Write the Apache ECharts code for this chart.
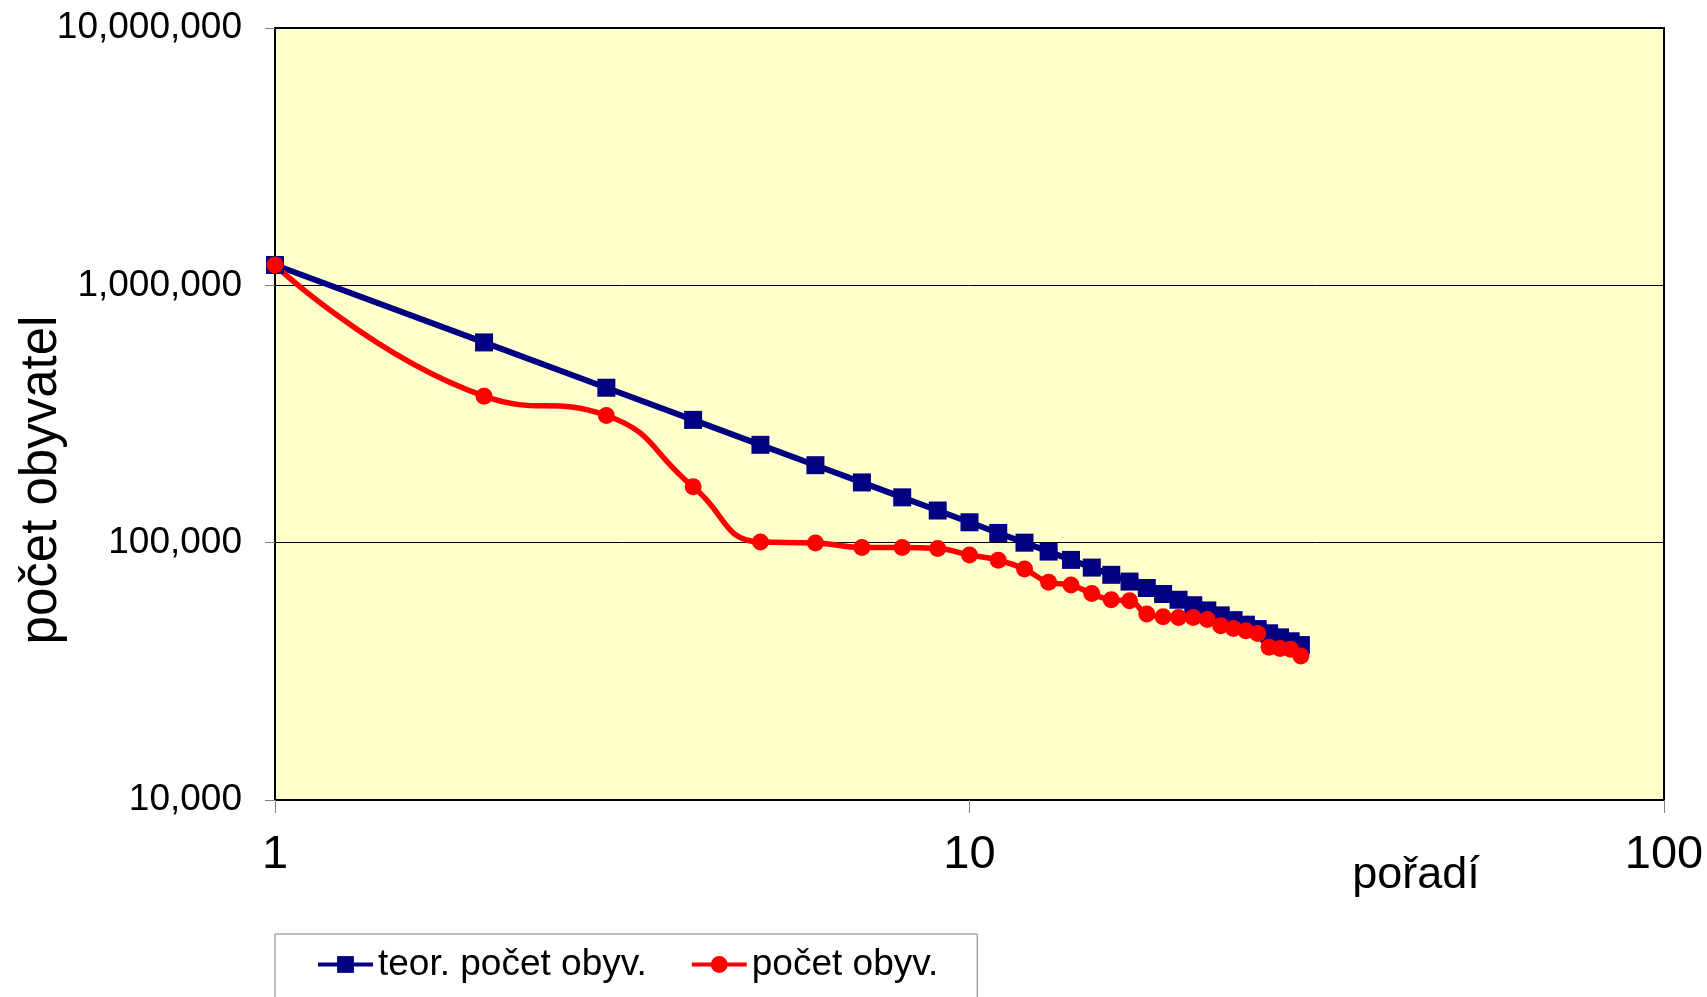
<!DOCTYPE html>
<html>
<head>
<meta charset="utf-8">
<script src="https://cdn.jsdelivr.net/npm/echarts@6/dist/echarts.min.js"></script>
<style>
html,body{margin:0;padding:0;background:#fff;}
#chart{width:1707px;height:997px;}
</style>
</head>
<body>
<div id="chart"></div>
<script>
// ---- data ----
var ranks = [1,2,3,4,5,6,7,8,9,10,11,12,13,14,15,16,17,18,19,20,21,22,23,24,25,26,27,28,29,30];
var theoretical = [1200000,600000,400000,300000,240000,200000,171429,150000,133333,120000,
  109091,100000,92308,85714,80000,75000,70588,66667,63158,60000,
  57143,54545,52174,50000,48000,46154,44444,42857,41379,40000];
var actual = [1200000,371000,312000,165000,100500,99800,95800,95800,95000,89500,
  85500,79000,70200,68400,63500,60000,59500,52800,51500,51200,
  51200,50300,47500,46400,45500,44400,39200,38800,38500,36300];
var seriesNames = ['teor. počet obyv.', 'počet obyv.'];
var xTicks = [1, 10, 100];
var yTicks = [10000, 100000, 1000000, 10000000];
var xName = 'pořadí';
var yName = 'počet obyvatel';

function pairs(xs, ys){ return xs.map(function(x,i){ return [x, ys[i]]; }); }

var FONT = "'Liberation Sans', Arial, sans-serif";
var chart = echarts.init(document.getElementById('chart'), null, {renderer:'canvas'});
chart.setOption({
  backgroundColor: '#ffffff',
  animation: false,
  grid: {
    left: 275, right: 43, top: 28, bottom: 197,
    show: true, backgroundColor: '#FFFFCC', borderColor: '#000', borderWidth: 2,
    containLabel: false
  },
  xAxis: {
    type: 'log', logBase: 10, min: xTicks[0], max: xTicks[xTicks.length-1], interval: 1,
    axisLine: {show: true, onZero: false, lineStyle: {color: '#000', width: 2}},
    axisTick: {show: true, length: 13, lineStyle: {color: '#808080', width: 1}},
    splitLine: {show: false},
    minorTick: {show: false},
    axisLabel: {
      margin: 32, color: '#000', fontSize: 47, fontFamily: FONT,
      formatter: function(v){ return String(Math.round(v)); }
    }
  },
  yAxis: {
    type: 'log', logBase: 10, min: yTicks[0], max: yTicks[yTicks.length-1], interval: 1,
    axisLine: {show: true, onZero: false, lineStyle: {color: '#000', width: 2}},
    axisTick: {show: true, length: 10, lineStyle: {color: '#808080', width: 1}},
    splitLine: {show: true, lineStyle: {color: '#000', width: 1}},
    axisLabel: {
      margin: 33, color: '#000', fontSize: 37, fontFamily: FONT,
      formatter: function(v){ return Math.round(v).toLocaleString('en-US'); }
    }
  },
  legend: {
    left: 275, top: 934,
    padding: [12, 39, 24, 41],
    itemGap: 43, itemWidth: 55, itemHeight: 21,
    borderColor: '#808080', borderWidth: 1, backgroundColor: '#fff',
    lineStyle: {width: 4},
    textStyle: {fontSize: 37, fontFamily: FONT, color: '#000'},
    data: seriesNames
  },
  graphic: [
    {type: 'text', x: 42, y: 480, rotation: Math.PI/2,
     style: {text: yName, fontSize: 51, fontFamily: FONT, fill: '#000', align: 'center', verticalAlign: 'middle'}},
    {type: 'text', x: 1416, y: 876,
     style: {text: xName, fontSize: 45, fontFamily: FONT, fill: '#000', align: 'center', verticalAlign: 'middle'}}
  ],
  series: [
    {
      name: seriesNames[0], type: 'line', data: pairs(ranks, theoretical),
      symbol: 'rect', symbolSize: 18, smooth: false,
      lineStyle: {color: '#000080', width: 6},
      itemStyle: {color: '#000080'}
    },
    {
      name: seriesNames[1], type: 'line', data: pairs(ranks, actual),
      symbol: 'circle', symbolSize: 17, smooth: 0.5,
      lineStyle: {color: '#FF0000', width: 5.5},
      itemStyle: {color: '#FF0000'}
    }
  ]
});
</script>
</body>
</html>
